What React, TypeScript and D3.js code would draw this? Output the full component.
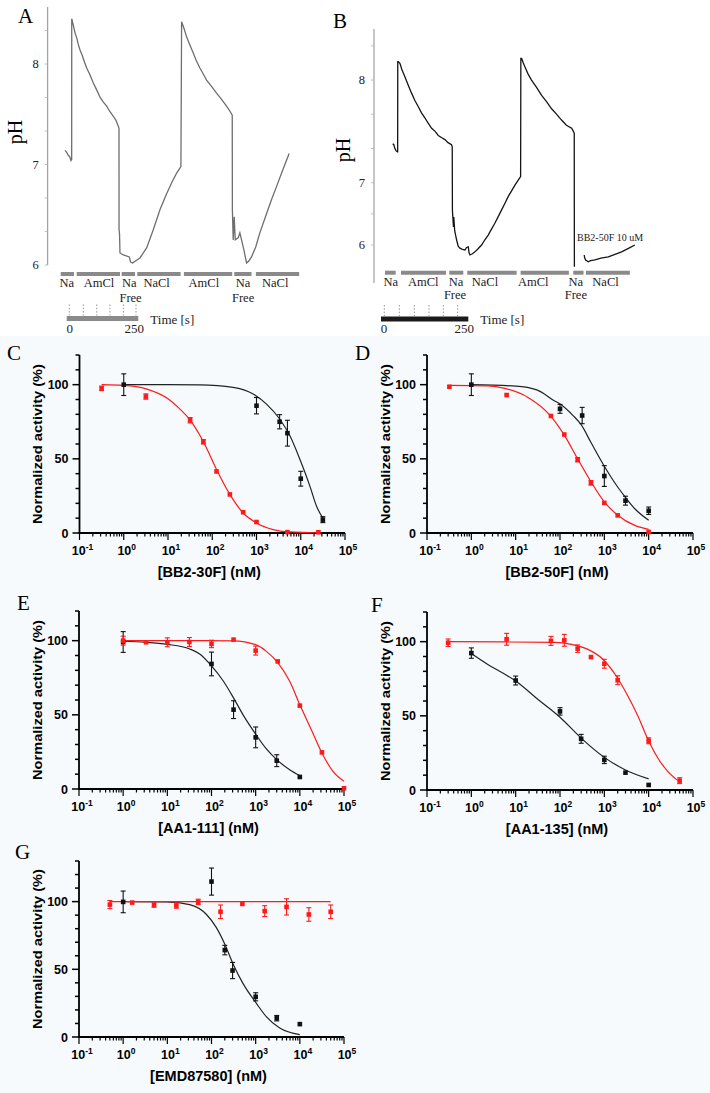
import React from 'react';
import * as d3 from 'd3';

type P2 = [number, number];
type P3 = [number, number, number];

// ---------- Panel A (pH trace) : [time (s), pH] ----------
const traceA: P2[] = [
  [-5.8, 7.14], [0, 7.12], [5.8, 7.09], [10, 7.08], [15.1, 7.04], [17.4, 7.05], [17.6, 8.45], [22, 8.4],
  [29.1, 8.31], [35, 8.26], [40, 8.2], [46.5, 8.14], [55, 8.08], [62, 8.02], [69.8, 7.96], [80, 7.9],
  [93, 7.81], [105, 7.74], [116.3, 7.67], [128, 7.62], [139.5, 7.58], [150, 7.53], [162.8, 7.48],
  [172, 7.44], [180.2, 7.38], [182.6, 7.36], [182.8, 6.35], [184.5, 6.31], [186, 6.12], [197.7, 6.1],
  [218.6, 6.08], [223, 6.03], [230.2, 6.02], [240, 6.04], [255.8, 6.07], [279, 6.17], [302.3, 6.35],
  [325.6, 6.55], [348.8, 6.71], [372, 6.85], [385, 6.92], [398.8, 6.98], [401.2, 8.42], [410, 8.35],
  [418.6, 8.27], [430, 8.19], [441.9, 8.11], [453, 8.03], [465, 7.96], [477, 7.9], [488.4, 7.84],
  [505, 7.78], [523.3, 7.71], [540, 7.65], [558.1, 7.58], [570, 7.53], [578, 7.49], [578.5, 6.55],
  [581.4, 6.25], [584.9, 6.48], [588.4, 6.25], [598.8, 6.27], [604.7, 6.32], [610.5, 6.25], [618.6, 6.15],
  [628, 6.02], [636, 6.04], [645.3, 6.08], [660, 6.18], [674.4, 6.32], [697.7, 6.51], [715, 6.65],
  [732.6, 6.78], [755, 6.95], [776.7, 7.11],
];
const barsA: P2[] = [[-20.9, 25.6], [34.9, 186], [191.9, 238.4], [246.5, 397.7], [409.3, 578], [585, 645.3], [660.5, 811.6]];
const barNames = ['Na', 'AmCl', 'Na', 'NaCl', 'AmCl', 'Na', 'NaCl'];
const labelTimesA = [0, 112.8, 218.6, 314, 479, 616, 728];
const freeTimesA = [223, 616];
const pHTicksA = [6, 6.333, 6.667, 7, 7.333, 7.667, 8, 8.333];
const pHLabels = [6, 7, 8];
const dotTicksA = [9, 58, 105, 151, 198, 242];

// ---------- Panel B ----------
const traceB1: P2[] = [
  [33.4, 7.38], [36.7, 7.37], [40, 7.33], [43.5, 7.31], [46.8, 7.3], [47.7, 7.3], [48, 8.18], [49.6, 8.18],
  [54.4, 8.16], [60, 8.1], [68.7, 8.03], [78, 7.95], [87.8, 7.87], [97, 7.8], [106.9, 7.74], [116, 7.68],
  [126, 7.63], [135, 7.58], [145, 7.53], [155, 7.5], [164, 7.46], [173, 7.44], [183, 7.42], [192, 7.39],
  [202, 7.37], [204, 7.35], [204.5, 6.56], [207.5, 6.29], [208.5, 6.45], [211, 6.23], [216.6, 6.08],
  [221, 5.98], [226, 5.95], [233, 5.93], [240.5, 5.92], [245, 5.96], [250, 5.97], [252, 5.88], [254.8, 5.84],
  [262, 5.86], [269, 5.89], [278, 5.94], [288, 6.0], [297, 6.08], [307, 6.16], [316, 6.25], [326, 6.35],
  [336, 6.46], [345, 6.56], [355, 6.67], [364.5, 6.78], [374, 6.87], [383.6, 6.96], [392, 7.02],
  [399.8, 7.06], [400.5, 8.21], [402.7, 8.21], [407, 8.17], [412, 8.13], [421, 8.06], [431, 8.0],
  [445, 7.93], [460, 7.85], [474, 7.79], [488.5, 7.72], [502, 7.67], [517, 7.61], [531, 7.56], [546, 7.53],
  [551, 7.5], [553.4, 7.48], [553.6, 6.53], [553.8, 5.65],
];
const traceB2: P2[] = [
  [582, 5.84], [583, 5.8], [586, 5.76], [593.5, 5.73], [600, 5.75], [612.6, 5.76], [630, 5.79],
  [650.8, 5.81], [670, 5.85], [689, 5.89], [710, 5.95], [727, 6.0],
];
const barsB: P2[] = [[11.5, 42], [57.3, 186], [195.6, 235.7], [247, 388.4], [399.8, 538], [550.6, 580], [586.8, 712.8]];
const labelTimesB = [27.7, 121, 214.7, 297.7, 436, 558, 643];
const freeTimesB = [212, 558];
const pHTicksB = [6, 6.5, 7, 7.333, 7.667, 8, 8.333];
const dotTicksB = [9.5, 52.5, 95.4, 137.4, 178.4, 219.5];

// ---------- Dose-response panels: [nM, % activity, error] ----------
const C_red: P3[] = [[0.316, 97.5, 1.5], [3.16, 92, 1.8], [31.6, 76, 1.8], [63, 61.5, 1.5], [125, 41.5, 1.2], [250, 26, 0.8], [500, 14, 0.8], [1000, 7.4, 0.7], [5000, 0.6, 0.5], [25000, 0.5, 0.5]];
const C_black: P3[] = [[1, 100, 7.3], [1000, 85.8, 5.5], [3333, 75, 4.8], [5000, 67.3, 8.7], [10000, 36.6, 5], [31600, 9, 2]];
const C_redFit: P2[] = [[0.316, 100], [1, 99.5], [3.2, 97.2], [10, 90.5], [18, 84], [31, 76.5], [62, 62], [124, 43], [250, 26], [500, 13.5], [1000, 6.8], [2400, 2.3], [5700, 0.7], [25000, 0]];
const C_blackFit: P2[] = [[1, 100], [9.2, 100], [52, 99.8], [295, 98.2], [841, 93.7], [1683, 86.9], [3375, 76.7], [5690, 65.5], [9560, 49.7], [16100, 31.6], [22800, 18], [32300, 9.5]];

const D_red: P3[] = [[0.32, 98.6, 0.8], [6.25, 93, 0.8], [62.5, 78.9, 1.2], [125, 66.4, 0.8], [250, 49.4, 1.5], [500, 33.8, 1.5], [1000, 20.3, 0.8], [2000, 11.9, 0.6], [10000, 0.7, 0.5]];
const D_black: P3[] = [[1, 100, 7.3], [100, 83.7, 3], [316, 79.2, 5.5], [1000, 38.4, 7], [3000, 21.8, 3], [10000, 15, 2.5]];
const D_redFit: P2[] = [[0.32, 99.5], [2.4, 99.2], [5.7, 97.5], [19, 91.4], [59, 79.5], [125, 66], [250, 50], [500, 34.5], [1000, 21], [2000, 12], [5000, 5], [10000, 2.5]];
const D_blackFit: P2[] = [[1, 100], [10, 99], [30, 96.5], [76, 89], [100, 87], [200, 79], [300, 73], [500, 61], [1000, 45], [2000, 31], [3000, 24], [5000, 16], [10000, 8.6]];

const E_red: P3[] = [[1, 100, 3], [3.3, 98.9, 1], [10, 98.9, 3], [31.6, 99.1, 3], [100, 97.8, 2.5], [316, 100.7, 1], [1000, 93.3, 3], [3162, 86, 1], [10000, 56.2, 1], [31623, 24.7, 1], [100000, 0.5, 1]];
const E_black: P3[] = [[1, 99.1, 7], [100, 84.3, 8], [316, 53.5, 6], [1000, 34.8, 7], [3000, 19.1, 4], [10000, 8.1, 1]];
const E_redFit: P2[] = [[1, 100], [32, 100], [309, 99.8], [1000, 97.3], [1750, 92.8], [3200, 85], [5890, 72.6], [10000, 56.8], [18200, 40], [31600, 24.3], [56200, 11.9], [100000, 5.2]];
const E_blackFit: P2[] = [[1, 99.6], [3.2, 98.9], [10, 97.5], [32, 94.4], [54, 91], [100, 83], [183, 73], [310, 61.8], [519, 50], [1000, 37], [1750, 27], [3000, 19.8], [5890, 13], [10000, 9]];

const F_red: P3[] = [[0.3, 99.3, 2.5], [6.25, 101.6, 4], [62.5, 100.5, 3], [125, 100.9, 4], [250, 95.3, 2.5], [500, 89.6, 1], [1000, 85.1, 3], [2000, 74, 3], [10000, 33.2, 2], [50000, 6.3, 2]];
const F_black: P3[] = [[1, 92.3, 3.5], [10, 73.8, 3], [100, 53, 2.5], [300, 34.5, 3], [1000, 20.3, 2.5], [3000, 11.7, 1], [10000, 3.4, 0.8]];
const F_redFit: P2[] = [[0.3, 100], [5.65, 99.8], [75.9, 99.5], [180, 98.2], [428, 94.8], [940, 88], [1870, 76.7], [3420, 63.2], [5750, 49.7], [9330, 35], [16200, 21.4], [27300, 12.4], [45700, 6.3]];
const F_blackFit: P2[] = [[1, 92], [2.4, 84.5], [5, 79], [10, 73.5], [32, 61], [100, 49], [300, 35], [1000, 22], [3000, 13.5], [10000, 7.5]];

const G_red: P3[] = [[0.5, 97.8, 3], [1.6, 99.3, 1], [5, 97.8, 2], [16, 97.1, 2], [50, 99.8, 2], [160, 92.5, 5], [500, 98.3, 1.2], [1600, 93, 4], [5000, 96.1, 6], [16000, 90.5, 5], [50000, 92.5, 5]];
const G_black: P3[] = [[1, 99.8, 8], [100, 114.8, 10], [200, 64.2, 3.5], [300, 49.1, 6], [1000, 29.7, 3], [3000, 13.9, 2], [10000, 9.5, 0.8]];
const G_redFit: P2[] = [[0.5, 100], [50000, 100]];
const G_blackFit: P2[] = [[1, 100], [9.6, 99.8], [32, 97.8], [77, 90.5], [129, 80.8], [200, 68.6], [308, 54], [519, 39.4], [1040, 24.8], [1740, 15], [3500, 6.6], [10000, 1.7]];

const SERIF = '"Liberation Serif", "Times New Roman", serif';
const SANS = '"Liberation Sans", Arial, Helvetica, sans-serif';
const RED = '#ff1a1a';

function TracePanel(props: {
  xs: d3.ScaleLinear<number, number>; ys: d3.ScaleLinear<number, number>;
  traces: P2[][]; color: string; axisX: number; axisTop: number; axisBottom: number;
  ticks: number[]; bars: P2[]; barY: number; labelTimes: number[]; freeTimes: number[];
  labelY: number; freeY: number; dotTicks: number[]; scaleColor: string; scaleY: number;
  letter: string; letterX: number; letterY: number; phX: number; phY: number;
}) {
  const p = props;
  const line = d3.line<P2>().x(d => p.xs(d[0])).y(d => p.ys(d[1]));
  return (
    <g>
      <text x={p.letterX} y={p.letterY} fontFamily={SERIF} fontSize={21}>{p.letter}</text>
      <text transform={`translate(${p.phX},${p.phY}) rotate(-90)`} textAnchor="middle" fontFamily={SERIF} fontSize={20}>pH</text>
      <line x1={p.axisX} x2={p.axisX} y1={p.axisTop} y2={p.axisBottom} stroke="#8c8c8c" strokeWidth={1} />
      {p.ticks.map((t, i) => (
        <line key={i} x1={p.axisX - 3} x2={p.axisX} y1={p.ys(t)} y2={p.ys(t)} stroke="#b0b0b0" strokeWidth={0.8} />
      ))}
      {pHLabels.map(t => (
        <text key={t} x={p.axisX - 9} y={p.ys(t) + 4} textAnchor="end" fontFamily={SERIF} fontSize={12.5} fill="#222">{t}</text>
      ))}
      {p.traces.map((tr, i) => (
        <path key={i} d={line(tr) || ''} fill="none" stroke={p.color} strokeWidth={1.3} />
      ))}
      {p.bars.map((b, i) => (
        <line key={i} x1={p.xs(b[0])} x2={p.xs(b[1])} y1={p.barY} y2={p.barY} stroke="#8a8a8a" strokeWidth={4} />
      ))}
      {p.labelTimes.map((t, i) => (
        <text key={i} x={p.xs(t)} y={p.labelY} textAnchor="middle" fontFamily={SERIF} fontSize={12.5} fill="#222">{barNames[i]}</text>
      ))}
      {p.freeTimes.map((t, i) => (
        <text key={i} x={p.xs(t)} y={p.freeY} textAnchor="middle" fontFamily={SERIF} fontSize={12.5} fill="#222">Free</text>
      ))}
      {p.dotTicks.map((t, i) => (
        <line key={i} x1={p.xs(t)} x2={p.xs(t)} y1={p.scaleY - 14} y2={p.scaleY - 3} stroke="#777" strokeWidth={0.8} strokeDasharray="1.5,1.8" />
      ))}
      <rect x={p.xs(0)} y={p.scaleY - 2.5} width={p.xs(250) - p.xs(0)} height={5} fill={p.scaleColor} />
      <text x={p.xs(0) + 3} y={p.scaleY + 14} textAnchor="middle" fontFamily={SERIF} fontSize={13} fill="#222">0</text>
      <text x={p.xs(250) - 4} y={p.scaleY + 14} textAnchor="middle" fontFamily={SERIF} fontSize={13} fill="#222">250</text>
      <text x={p.xs(250) + 12} y={p.scaleY + 5} fontFamily={SERIF} fontSize={13} fill="#222">Time [s]</text>
    </g>
  );
}

function DosePanel(props: {
  left: number; right: number; bottom: number; top: number; yMax: number;
  letter: string; lx: number; ly: number; title: string;
  red: P3[]; black: P3[]; redFit: P2[]; blackFit: P2[];
}) {
  const p = props;
  const x = d3.scaleLog().domain([0.1, 1e5]).range([p.left, p.right]);
  const y = d3.scaleLinear().domain([0, p.yMax]).range([p.bottom, p.top]);
  const line = d3.line<P2>().x(d => x(d[0])).y(d => y(d[1])).curve(d3.curveMonotoneX);
  const xt = x.ticks();
  const yt = d3.range(0, p.yMax + 1, 10);
  const sq = 4.6;
  const pts = (data: P3[], color: string) => data.map((d, i) => {
    const cx = x(d[0]), cy = y(d[1]);
    const y1 = y(d[1] + d[2]), y2 = y(d[1] - d[2]);
    return (
      <g key={i}>
        {d[2] > 1.2 && (
          <g stroke={color} strokeWidth={1.1}>
            <line x1={cx} x2={cx} y1={y1} y2={y2} />
            <line x1={cx - 2.5} x2={cx + 2.5} y1={y1} y2={y1} />
            <line x1={cx - 2.5} x2={cx + 2.5} y1={y2} y2={y2} />
          </g>
        )}
        <rect x={cx - sq / 2} y={cy - sq / 2} width={sq} height={sq} fill={color} />
      </g>
    );
  });
  return (
    <g>
      <text x={p.lx} y={p.ly} fontFamily={SERIF} fontSize={21}>{p.letter}</text>
      <line x1={p.left} x2={p.left} y1={p.top} y2={p.bottom + 0.9} stroke="#000" strokeWidth={1.8} />
      {yt.map(v => (
        <line key={v} x1={p.left - (v % 50 === 0 ? 7 : 4)} x2={p.left} y1={y(v)} y2={y(v)} stroke="#000" strokeWidth={1.5} />
      ))}
      {[0, 50, 100].map(v => (
        <text key={v} x={p.left - 11} y={y(v) + 4.5} textAnchor="end" fontFamily={SANS} fontWeight="bold" fontSize={12.5}>{v}</text>
      ))}
      <text transform={`translate(${p.left - 42},${(p.top + p.bottom) / 2}) rotate(-90)`} textAnchor="middle" dominantBaseline="central"
        fontFamily={SANS} fontWeight="bold" fontSize={13} textLength={160} lengthAdjust="spacingAndGlyphs">Normalized activity (%)</text>
      <line x1={p.left - 0.9} x2={p.right} y1={p.bottom} y2={p.bottom} stroke="#000" strokeWidth={1.8} />
      {xt.map((v, i) => {
        const major = Math.abs(Math.log10(v) - Math.round(Math.log10(v))) < 1e-6;
        return <line key={i} x1={x(v)} x2={x(v)} y1={p.bottom} y2={p.bottom + (major ? 7 : 3.5)} stroke="#000" strokeWidth={1.2} />;
      })}
      {d3.range(-1, 6).map(e => (
        <text key={e} x={x(Math.pow(10, e)) + 3} y={p.bottom + 22} textAnchor="middle" fontFamily={SANS} fontWeight="bold" fontSize={12.5}>
          10<tspan dy={-5} fontSize={8.5}>{e}</tspan>
        </text>
      ))}
      <text x={(p.left + p.right) / 2 - 3} y={p.bottom + 44} textAnchor="middle" fontFamily={SANS} fontWeight="bold" fontSize={14.5}>{p.title}</text>
      <path d={line(p.blackFit) || ''} fill="none" stroke="#222" strokeWidth={1.2} />
      <path d={line(p.redFit) || ''} fill="none" stroke={RED} strokeWidth={1.2} />
      {pts(p.black, '#111')}
      {pts(p.red, RED)}
    </g>
  );
}

export default function App() {
  const xsA = d3.scaleLinear().domain([0, 250]).range([66.7, 138.3]);
  const ysA = d3.scaleLinear().domain([6, 8]).range([265, 64]);
  const xsB = d3.scaleLinear().domain([0, 250]).range([381, 468.3]);
  const ysB = d3.scaleLinear().domain([5.4, 6, 7, 8.5]).range([282.4, 245, 182.7, 28.7]);
  return (
    <svg width={710} height={1093} style={{ position: 'absolute', left: 0, top: 0, background: '#fff' }}>
      <rect x={0} y={336} width={710} height={757} fill="#f6fafc" />
      <TracePanel xs={xsA} ys={ysA} traces={[traceA]} color="#6e6e6e" axisX={47.7} axisTop={7} axisBottom={265}
        ticks={pHTicksA} bars={barsA} barY={274} labelTimes={labelTimesA} freeTimes={freeTimesA}
        labelY={287} freeY={302} dotTicks={dotTicksA} scaleColor="#8a8a8a" scaleY={318.5}
        letter="A" letterX={18} letterY={23} phX={22} phY={132} />
      <TracePanel xs={xsB} ys={ysB} traces={[traceB1, traceB2]} color="#151515" axisX={374} axisTop={29} axisBottom={283}
        ticks={pHTicksB} bars={barsB} barY={272.7} labelTimes={labelTimesB} freeTimes={freeTimesB}
        labelY={286} freeY={298.5} dotTicks={dotTicksB} scaleColor="#1a1a1a" scaleY={319}
        letter="B" letterX={333} letterY={28} phX={350} phY={150} />
      <text x={577} y={241} fontFamily={SERIF} fontSize={10} fill="#222">BB2-50F 10 uM</text>

      <DosePanel left={79.5} right={345} bottom={533} top={355} yMax={120} letter="C" lx={7} ly={360}
        title="[BB2-30F] (nM)" red={C_red} black={C_black} redFit={C_redFit} blackFit={C_blackFit} />
      <DosePanel left={427} right={693} bottom={533} top={355} yMax={120} letter="D" lx={355} ly={360}
        title="[BB2-50F] (nM)" red={D_red} black={D_black} redFit={D_redFit} blackFit={D_blackFit} />
      <DosePanel left={79} right={344} bottom={789} top={611} yMax={120} letter="E" lx={17} ly={610}
        title="[AA1-111] (nM)" red={E_red} black={E_black} redFit={E_redFit} blackFit={E_blackFit} />
      <DosePanel left={427} right={693} bottom={790} top={612} yMax={120} letter="F" lx={371} ly={612}
        title="[AA1-135] (nM)" red={F_red} black={F_black} redFit={F_redFit} blackFit={F_blackFit} />
      <DosePanel left={79} right={344} bottom={1037} top={861} yMax={130} letter="G" lx={15} ly={859}
        title="[EMD87580] (nM)" red={G_red} black={G_black} redFit={G_redFit} blackFit={G_blackFit} />
    </svg>
  );
}
